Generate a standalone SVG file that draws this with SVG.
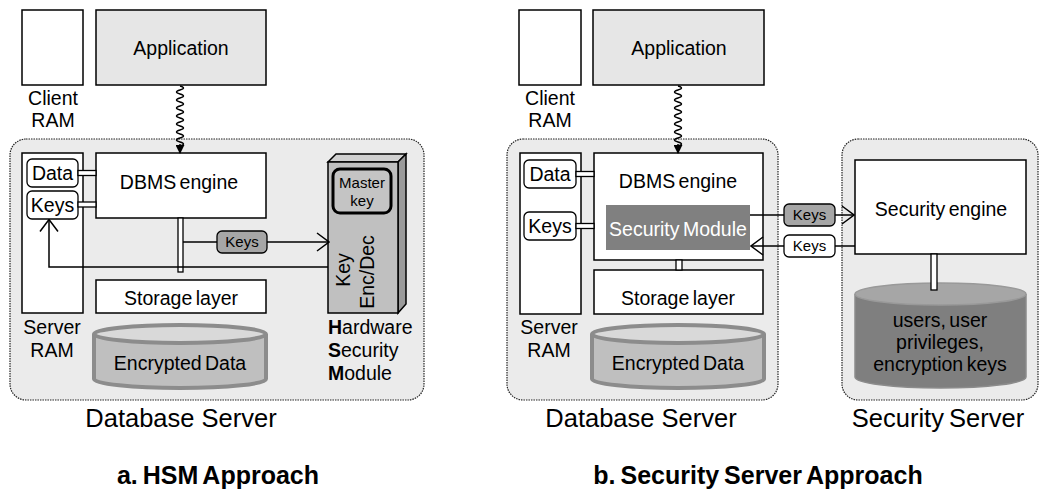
<svg xmlns="http://www.w3.org/2000/svg" width="1040" height="494" viewBox="0 0 1040 494">
<defs>
<style>
text{font-family:"Liberation Sans",Arial,sans-serif;fill:#000}
.t19{font-size:19.5px}
.t15{font-size:15px}
.t25{font-size:25.5px}
.title{font-size:25px;font-weight:bold}
.box{fill:#fff;stroke:#000;stroke-width:1.5}
.cont{fill:#ebebeb;stroke:#222;stroke-width:1.2;stroke-dasharray:1.5 1}
.app{fill:#e6e6e6;stroke:#000;stroke-width:1.5}
.ram{fill:#fff;stroke:#000;stroke-width:1.5}
.pill{fill:#fff;stroke:#000;stroke-width:1.3}
.gpill{fill:#a6a6a6;stroke:#000;stroke-width:1.3}
.bar{fill:#fff;stroke:#000;stroke-width:1.3}
.ln{fill:none;stroke:#000;stroke-width:1.5}
.wave{fill:none;stroke:#000;stroke-width:1.4}
.mid{text-anchor:middle}
</style>
<marker id="open" viewBox="0 0 14 20" refX="13" refY="10" markerWidth="14" markerHeight="20" markerUnits="userSpaceOnUse" orient="auto">
<path d="M1,1 L13,10 L1,19" fill="none" stroke="#000" stroke-width="1.5"/>
</marker>
<marker id="solid" viewBox="0 0 10 10" refX="9" refY="5" markerWidth="9" markerHeight="9" markerUnits="userSpaceOnUse" orient="auto">
<path d="M0,0 L10,5 L0,10 z" fill="#000"/>
</marker>
</defs>

<!-- ============ Panel a ============ -->
<g id="a-db-server">
<rect class="cont" x="10" y="139" width="414" height="261" rx="16"/>
<text class="t25 mid" x="181" y="427">Database Server</text>
</g>
<g id="a-client-ram">
<rect class="ram" x="22" y="10" width="61" height="75"/>
<text class="t19 mid" x="53" y="105">Client</text>
<text class="t19 mid" x="53" y="127">RAM</text>
</g>
<g id="a-application">
<rect class="app" x="96" y="10" width="170" height="75"/>
<text class="t19 mid" x="181" y="55">Application</text>
</g>
<g id="a-server-ram">
<rect class="ram" x="22" y="153" width="61" height="160"/>
<text class="t19 mid" x="52" y="334">Server</text>
<text class="t19 mid" x="52" y="357">RAM</text>
</g>
<g id="a-data">
<rect class="pill" x="27" y="159" width="51" height="28" rx="5"/>
<text class="t19 mid" x="52.5" y="180">Data</text>
</g>
<g id="a-keys">
<rect class="pill" x="27" y="191" width="51" height="28" rx="5"/>
<text class="t19 mid" x="52.5" y="212">Keys</text>
</g>
<g id="a-dbms">
<rect class="box" x="96" y="153" width="170" height="65"/>
<text class="t19 mid" x="179" y="189" word-spacing="-2">DBMS engine</text>
</g>
<g id="a-storage">
<rect class="box" x="96" y="280" width="170" height="33"/>
<text class="t19 mid" x="181" y="305" word-spacing="-2">Storage layer</text>
</g>
<g id="a-encrypted">
<path d="M94,334 v45 a86,9 0 0 0 172,0 v-45" fill="#bfbfbf" stroke="#8c8c8c" stroke-width="4"/>
<ellipse cx="180" cy="334" rx="86" ry="9" fill="#d9d9d9" stroke="#8c8c8c" stroke-width="4"/>
<text class="t19 mid" x="180" y="370" word-spacing="-2">Encrypted Data</text>
</g>
<g id="a-hsm">
<path d="M328,162 L336,154 L406,154 L398,162 z" fill="#d0d0d0" stroke="#000" stroke-width="1.5"/>
<path d="M398,162 L406,154 L406,304 L398,313 z" fill="#9a9a9a" stroke="#000" stroke-width="1.5"/>
<rect x="328" y="162" width="70" height="151" fill="#c0c0c0" stroke="#000" stroke-width="1.5"/>
<rect x="333" y="169" width="58" height="44" rx="7" fill="#c4c4c4" stroke="#000" stroke-width="3"/>
<text class="t15 mid" x="362" y="188">Master</text>
<text class="t15 mid" x="362" y="206">key</text>
<text class="t19 mid" transform="translate(350,270) rotate(-90)">Key</text>
<text class="t19 mid" transform="translate(374,272) rotate(-90)">Enc/Dec</text>
<text class="t19" x="328" y="334"><tspan font-weight="bold">H</tspan>ardware</text>
<text class="t19" x="328" y="357"><tspan font-weight="bold">S</tspan>ecurity</text>
<text class="t19" x="328" y="380"><tspan font-weight="bold">M</tspan>odule</text>
</g>
<g id="a-keys-label">
<rect class="gpill" x="217" y="231" width="50" height="22" rx="5"/>
<text class="t15 mid" x="242" y="247">Keys</text>
</g>
<g id="a-title">
<text class="title mid" x="218" y="484" word-spacing="-2">a. HSM Approach</text>
</g>

<g id="a-connectors">
<path class="wave" d="M180,86 q7,2 0,4 t0,4 t0,4 t0,4 t0,4 t0,4 t0,4 t0,4 t0,4 t0,4 t0,4 t0,4 t0,4 t0,4 t0,4"/>
<path class="ln" d="M180,144 L180,153" marker-end="url(#solid)"/>
<rect class="bar" x="78" y="170.5" width="18" height="5"/>
<rect class="bar" x="78" y="202" width="18" height="5"/>
<rect class="bar" x="178" y="218" width="5" height="54"/>
<path class="ln" d="M183,242 L217,242"/>
<path class="ln" d="M267,242 L329,242" marker-end="url(#open)"/>
<path class="ln" d="M328,267 L49,267 L49,219.5" marker-end="url(#open)"/>
</g>

<!-- ============ Panel b ============ -->
<g id="b-db-server">
<rect class="cont" x="507" y="139" width="271" height="261" rx="16"/>
<text class="t25 mid" x="641" y="427">Database Server</text>
</g>
<g id="b-sec-server">
<rect class="cont" x="842" y="139" width="196" height="261" rx="16"/>
<text class="t25 mid" x="938" y="427" word-spacing="-2">Security Server</text>
</g>
<g id="b-client-ram">
<rect class="ram" x="519" y="10" width="62" height="75"/>
<text class="t19 mid" x="550" y="105">Client</text>
<text class="t19 mid" x="550" y="127">RAM</text>
</g>
<g id="b-application">
<rect class="app" x="593" y="10" width="171" height="75"/>
<text class="t19 mid" x="679" y="55">Application</text>
</g>
<g id="b-server-ram">
<rect class="ram" x="520" y="153" width="61" height="161"/>
<text class="t19 mid" x="549" y="334">Server</text>
<text class="t19 mid" x="549" y="357">RAM</text>
</g>
<g id="b-data">
<rect class="pill" x="524" y="160" width="52" height="28" rx="5"/>
<text class="t19 mid" x="550" y="181">Data</text>
</g>
<g id="b-keys">
<rect class="pill" x="524" y="212" width="52" height="28" rx="5"/>
<text class="t19 mid" x="550" y="233">Keys</text>
</g>
<g id="b-dbms">
<rect class="box" x="594" y="153" width="169" height="107"/>
<text class="t19 mid" x="678" y="188" word-spacing="-2">DBMS engine</text>
</g>
<g id="b-sec-module">
<rect x="606" y="205" width="144" height="45" fill="#808080"/>
<text class="t19 mid" x="678" y="236" style="fill:#fff" word-spacing="-2">Security Module</text>
</g>
<g id="b-storage">
<rect class="box" x="594" y="270" width="169" height="44"/>
<text class="t19 mid" x="678" y="305" word-spacing="-2">Storage layer</text>
</g>
<g id="b-encrypted">
<path d="M592,334 v45 a86,9 0 0 0 172,0 v-45" fill="#bfbfbf" stroke="#8c8c8c" stroke-width="4"/>
<ellipse cx="678" cy="334" rx="86" ry="9" fill="#d9d9d9" stroke="#8c8c8c" stroke-width="4"/>
<text class="t19 mid" x="678" y="370" word-spacing="-2">Encrypted Data</text>
</g>
<g id="b-sec-engine">
<rect class="box" x="855" y="160" width="171" height="94"/>
<text class="t19 mid" x="941" y="216" word-spacing="-2">Security engine</text>
</g>
<g id="b-sec-db">
<path d="M855,294 v83 a85.5,11 0 0 0 171,0 v-83" fill="#7f7f7f" stroke="#8c8c8c" stroke-width="1.5"/>
<ellipse cx="940.5" cy="294" rx="85.5" ry="11" fill="#a6a6a6" stroke="#999" stroke-width="1.5"/>
<text class="t19 mid" x="940" y="327" word-spacing="-2">users, user</text>
<text class="t19 mid" x="940" y="349">privileges,</text>
<text class="t19 mid" x="940" y="371" word-spacing="-2">encryption keys</text>
</g>
<g id="b-keys-out">
<rect class="gpill" x="784" y="204" width="51" height="22" rx="5"/>
<text class="t15 mid" x="809.5" y="220">Keys</text>
</g>
<g id="b-keys-in">
<rect class="pill" x="784" y="235" width="51" height="22" rx="5"/>
<text class="t15 mid" x="809.5" y="251">Keys</text>
</g>
<g id="b-title">
<text class="title mid" x="758" y="484" word-spacing="-2">b. Security Server Approach</text>
</g>

<g id="b-connectors">
<path class="wave" d="M678,86 q7,2 0,4 t0,4 t0,4 t0,4 t0,4 t0,4 t0,4 t0,4 t0,4 t0,4 t0,4 t0,4 t0,4 t0,4 t0,4"/>
<path class="ln" d="M678,144 L678,153" marker-end="url(#solid)"/>
<rect class="bar" x="576" y="171.5" width="18" height="5"/>
<rect class="bar" x="576" y="223.5" width="18" height="5"/>
<rect class="bar" x="676" y="260" width="6" height="10"/>
<rect class="bar" x="931" y="254" width="6" height="36"/>
<path class="ln" d="M750,215 L784,215"/>
<path class="ln" d="M835,215 L854,215" marker-end="url(#open)"/>
<path class="ln" d="M855,246 L835,246"/>
<path class="ln" d="M784,246 L751,246" marker-end="url(#open)"/>
</g>
</svg>
